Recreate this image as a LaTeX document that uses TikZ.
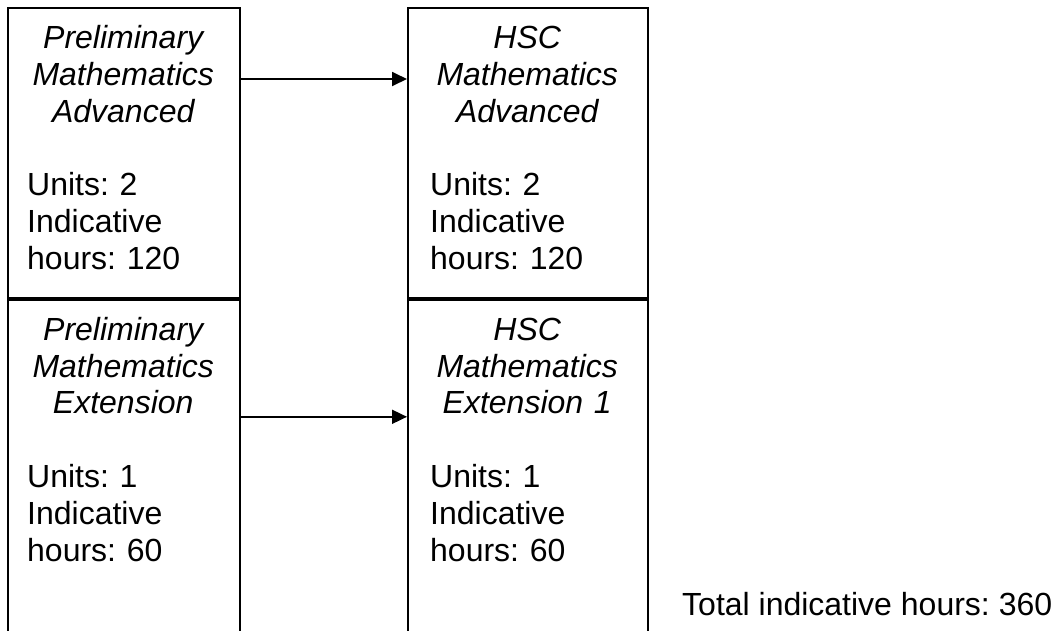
\documentclass[tikz,border=0pt]{standalone}
\usepackage{fontspec}
\setmainfont{Liberation Sans}
\usepackage{tikz}
\usetikzlibrary{arrows.meta,positioning,calc}
\frenchspacing

\begin{document}
\begin{tikzpicture}[
  x=1pt, y=-1pt,
  >=Stealth,
  % --- Styles (plain B/W boxes, Arial-like text) ---
  cell/.style={
    rectangle, draw=black, line width=1.8pt,
    minimum height=290pt, inner sep=0pt, anchor=north west
  },
  celltext/.style={
    anchor=base west, inner sep=0pt,
    font=\fontsize{32}{36.8}\selectfont
  },
  arrow/.style={-{Triangle[length=15pt,width=14pt]}, line width=1.8pt},
  note/.style={anchor=base west, inner sep=0pt, font=\fontsize{32}{36.8}\selectfont}
]

% ---- Page frame (bottom row runs off the page) ----
\useasboundingbox (0,0) rectangle (1059,630);
\clip (0,0) rectangle (1059,630);

% ---- Preliminary column ----
\node[cell, minimum width=232pt] (prelimAdv) at (7,7) {};
\node[cell, minimum width=232pt, minimum height=360pt] (prelimExt) at (prelimAdv.south west) {};

% ---- HSC column ----
\node[cell, minimum width=240pt] (hscAdv) at (407,7) {};
\node[cell, minimum width=240pt, minimum height=360pt] (hscExt) at (hscAdv.south west) {};

% ---- Cell texts ----
\node[celltext, text width=192pt] (prelimAdvText) at ($(prelimAdv.north west)+(20,41.4)$)
  {{\centering\itshape Preliminary\\Mathematics\\Advanced\par}\vspace{36.8pt}%
   \raggedright Units: 2\\Indicative\\hours: 120};
\node[celltext, text width=192pt] (prelimExtText) at ($(prelimExt.north west)+(20,41.4)$)
  {{\centering\itshape Preliminary\\Mathematics\\Extension\par}\vspace{36.8pt}%
   \raggedright Units: 1\\Indicative\\hours: 60};
\node[celltext, text width=194pt] (hscAdvText) at ($(hscAdv.north west)+(23,41.4)$)
  {{\centering\itshape HSC\\Mathematics\\Advanced\par}\vspace{36.8pt}%
   \raggedright Units: 2\\Indicative\\hours: 120};
\node[celltext, text width=194pt] (hscExtText) at ($(hscExt.north west)+(23,41.4)$)
  {{\centering\itshape HSC\\Mathematics\\Extension 1\par}\vspace{36.8pt}%
   \raggedright Units: 1\\Indicative\\hours: 60};

% ---- Progression arrows ----
\draw[arrow] ($(prelimAdv.north east)+(0,72)$) -- ($(hscAdv.north west)+(0,72)$);
\draw[arrow] ($(prelimExt.north east)+(0,118)$) -- ($(hscExt.north west)+(0,118)$);

% ---- Total note ----
\node[note] (totalHours) at (682,615) {Total indicative hours: 360};

\end{tikzpicture}
\end{document}
